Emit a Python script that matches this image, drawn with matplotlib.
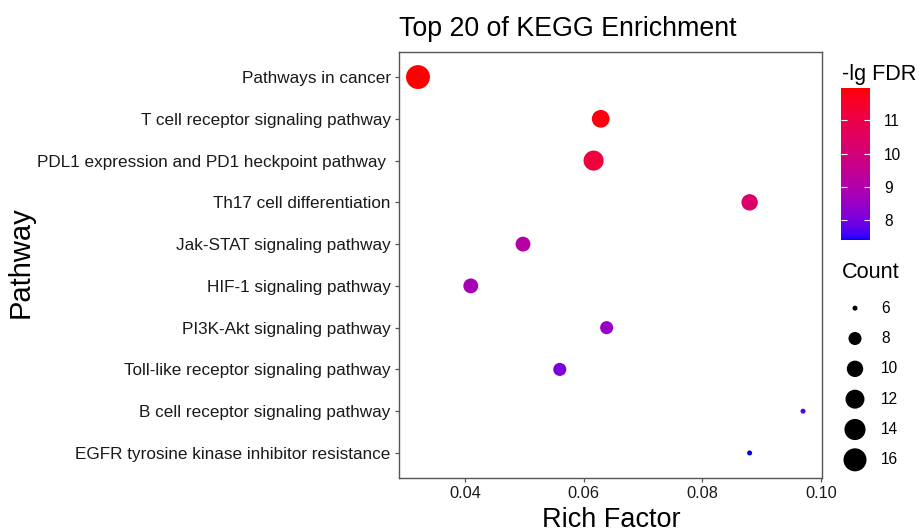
import numpy as np
import matplotlib
matplotlib.use("Agg")
import matplotlib.pyplot as plt
from matplotlib.colors import ListedColormap, Normalize

plt.rcParams['font.family'] = ['Liberation Sans', 'DejaVu Sans']

# 数据（从上到下）
pathways = [
    "Pathways in cancer",
    "T cell receptor signaling pathway",
    "PDL1 expression and PD1 heckpoint pathway ",
    "Th17 cell differentiation",
    "Jak-STAT signaling pathway",
    "HIF-1 signaling pathway",
    "PI3K-Akt signaling pathway",
    "Toll-like receptor signaling pathway",
    "B cell receptor signaling pathway",
    "EGFR tyrosine kinase inhibitor resistance",
]
rich_factor = [0.0321, 0.0629, 0.0617, 0.0880, 0.0498, 0.0410, 0.0639, 0.0560, 0.0970, 0.0880]
lg_fdr = [11.97, 11.85, 11.2, 10.3, 9.1, 8.8, 8.5, 8.1, 7.7, 7.4]
counts = [17, 11, 13, 10, 9, 9, 8, 8, 6, 6]
count_breaks = [6, 8, 10, 12, 14, 16]
fdr_ticks = [8, 9, 10, 11]
x_ticks = [0.04, 0.06, 0.08, 0.10]

W, H, DPI = 919, 532, 100


# ggplot 的颜色渐变在 Lab 空间插值
M = np.array([[0.4124, 0.3576, 0.1805],
              [0.2126, 0.7152, 0.0722],
              [0.0193, 0.1192, 0.9505]])
WHITE = np.array([0.95047, 1.0, 1.08883])


def srgb2lab(c):
    c = np.asarray(c, float)
    lin = np.where(c <= 0.04045, c / 12.92, ((c + 0.055) / 1.055) ** 2.4)
    xyz = (M @ lin) / WHITE
    f = np.where(xyz > 0.008856, np.cbrt(xyz), 7.787 * xyz + 16 / 116)
    return np.array([116 * f[1] - 16, 500 * (f[0] - f[1]), 200 * (f[1] - f[2])])


def lab2srgb(lab):
    L, a, b = lab
    fy = (L + 16) / 116
    f = np.array([fy + a / 500, fy, fy - b / 200])
    xyz = np.where(f ** 3 > 0.008856, f ** 3, (f - 16 / 116) / 7.787) * WHITE
    lin = np.linalg.inv(M) @ xyz
    lin = np.clip(lin, 0, None)
    c = np.where(lin <= 0.0031308, 12.92 * lin, 1.055 * lin ** (1 / 2.4) - 0.055)
    return np.clip(c, 0, 1)


lab_lo = srgb2lab([0, 0, 1])
lab_hi = srgb2lab([1, 0, 0])
cmap = ListedColormap([lab2srgb(lab_lo + t * (lab_hi - lab_lo)) for t in np.linspace(0, 1, 256)])
norm = Normalize(vmin=min(lg_fdr), vmax=max(lg_fdr))


# 点大小：面积比例（类似 scale_size）
def size_pts2(v):
    v = np.asarray(v, float)
    d_px = 5 + 18.9 * np.sqrt((v - min(counts)) / (max(counts) - min(counts)))
    return (d_px * 72 / DPI) ** 2


fig = plt.figure(figsize=(W / DPI, H / DPI), dpi=DPI)
ax = fig.add_axes([399 / W, 1 - 478 / H, 423 / W, 426 / H])

n = len(pathways)
ypos = np.arange(n, 0, -1)
ax.scatter(rich_factor, ypos, s=size_pts2(counts), c=lg_fdr, cmap=cmap, norm=norm,
           edgecolors='none', zorder=3)

ax.set_ylim(0.4, n + 0.6)
ax.set_xlim(0.0289, 0.1002)
ax.set_yticks(ypos)
ax.set_yticklabels(pathways, fontsize=12.3, color='#1a1a1a')
ax.set_xticks(x_ticks)
ax.set_xticklabels([f"{t:.2f}" for t in x_ticks], fontsize=11.8, color='#1a1a1a')
ax.tick_params(length=3, width=0.9, color='#555555', pad=3)
for sp in ax.spines.values():
    sp.set_color('#555555')
    sp.set_linewidth(1.0)

fig.text(399 / W, 1 - 36 / H, "Top 20 of KEGG Enrichment", fontsize=19.3, ha='left', va='baseline')
fig.text(611 / W, 1 - 527 / H, "Rich Factor", fontsize=19.5, ha='center', va='baseline')
fig.text(21 / W, 1 - 262 / H, "Pathway", fontsize=21, rotation=90, ha='center', va='center')

# 颜色图例
cax = fig.add_axes([841 / W, 1 - 240 / H, 29 / W, 152 / H])
cb = fig.colorbar(plt.cm.ScalarMappable(norm=norm, cmap=cmap), cax=cax)
cb.outline.set_visible(False)
cb.set_ticks(fdr_ticks)
cax.tick_params(direction='in', color='white', length=4.5, width=0.8, labelsize=11.2, pad=10)
cax.yaxis.set_ticks_position('both')
cax.tick_params(labelleft=False, labelright=True)
fig.text(842 / W, 1 - 80 / H, "-lg FDR", fontsize=15.6, ha='left', va='baseline')

# 大小图例
fig.text(842 / W, 1 - 278 / H, "Count", fontsize=15.6, ha='left', va='baseline')
lax = fig.add_axes([835 / W, 1 - 475 / H, 80 / W, 182 / H])
lax.set_xlim(0, 80)
lax.set_ylim(len(count_breaks) - 0.5, -0.5)
lax.axis('off')
lidx = np.arange(len(count_breaks))
lax.scatter(np.full(len(count_breaks), 20), lidx, s=size_pts2(count_breaks), color='black',
            edgecolors='none')
for i, b in zip(lidx, count_breaks):
    lax.text(46, i, str(b), fontsize=11.2, ha='left', va='center')

fig.savefig("out.png", dpi=DPI)
